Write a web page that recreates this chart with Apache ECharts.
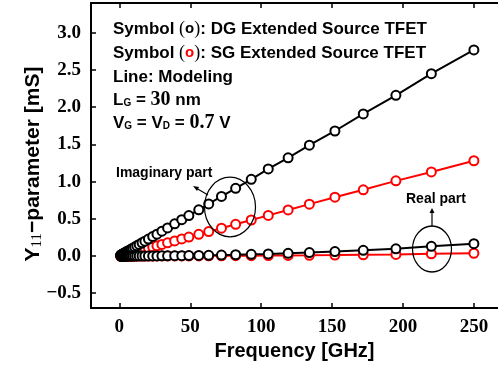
<!DOCTYPE html>
<html>
<head>
<meta charset="utf-8">
<script src="https://cdn.jsdelivr.net/npm/echarts@6/dist/echarts.min.js"></script>
<style>
  html, body { margin: 0; padding: 0; background: #fff; }
  #chart { width: 498px; height: 366px; }
</style>
</head>
<body>
<div id="chart"></div>
<script>
// frequency sweep [GHz] (log-like spacing)
const freq = [1, 1.1, 1.3, 1.5, 1.8, 2, 2.3, 2.6, 3, 3.4, 3.9, 4.4, 5, 5.7, 6.5, 7.4, 8.4, 9.5,
  10.8, 12.3, 14, 16, 18, 20.5, 23.5, 26.5, 30, 34, 39, 44, 49, 56, 63, 72, 82, 93, 105, 119,
  134, 152, 172, 195, 220, 250]

// Y11 imaginary part [mS]
const imagDG = [0.011, 0.012, 0.014, 0.017, 0.020, 0.022, 0.026, 0.029, 0.033, 0.038, 0.043, 0.049,
  0.056, 0.063, 0.072, 0.082, 0.093, 0.105, 0.12, 0.137, 0.155, 0.178, 0.20, 0.228, 0.261, 0.294,
  0.333, 0.377, 0.433, 0.488, 0.544, 0.62, 0.70, 0.80, 0.91, 1.03, 1.17, 1.32, 1.49, 1.68, 1.91,
  2.16, 2.45, 2.77]
const imagSG = [0.005, 0.006, 0.007, 0.008, 0.009, 0.010, 0.012, 0.014, 0.016, 0.018, 0.020, 0.023,
  0.026, 0.030, 0.034, 0.038, 0.044, 0.049, 0.056, 0.064, 0.073, 0.083, 0.094, 0.107, 0.122, 0.138,
  0.156, 0.177, 0.203, 0.229, 0.255, 0.291, 0.328, 0.374, 0.426, 0.484, 0.546, 0.619, 0.697, 0.79,
  0.89, 1.01, 1.13, 1.28]

// Y11 real part [mS]
const realDG = [0, 0, 0, 0, 0, 0, 0, 0, 0, 0, 0, 0, 0, 0.0001, 0.0001, 0.0001, 0.0002, 0.0002,
  0.0003, 0.0004, 0.0005, 0.0007, 0.0008, 0.0011, 0.0014, 0.0018, 0.0023, 0.003, 0.0039, 0.005,
  0.0061, 0.008, 0.010, 0.013, 0.017, 0.022, 0.028, 0.036, 0.046, 0.059, 0.076, 0.097, 0.13, 0.165]
const realSG = [0, 0, 0, 0, 0, 0, 0, 0, 0, 0, 0, 0, 0, 0, 0, 0, 0, 0, 0, 0, 0.0001, 0.0001, 0.0002,
  0.0002, 0.0003, 0.0004, 0.0005, 0.0006, 0.0009, 0.0011, 0.0013, 0.0018, 0.002, 0.003, 0.004,
  0.005, 0.006, 0.008, 0.010, 0.013, 0.017, 0.021, 0.03, 0.037]

const xTicks = [0, 50, 100, 150, 200, 250]
const yTicks = [-0.5, 0, 0.5, 1.0, 1.5, 2.0, 2.5, 3.0]

const sans = '"Liberation Sans", Arial, sans-serif'
const serif = '"Liberation Serif", "Times New Roman", serif'

const pairs = (ys) => freq.map((f, i) => [f, ys[i]])

const makeSeries = (name, ys, color) => ({
    name: name,
    type: 'line',
    data: pairs(ys),
    symbol: 'emptyCircle',
    symbolSize: 9,
    showAllSymbol: true,
    lineStyle: { color: color, width: 2 },
    itemStyle: { color: color, borderColor: color, borderWidth: 1.8 },
    z: 3,
    animation: false
})

const chart = echarts.init(document.getElementById('chart'))

const axisLine = { show: true, onZero: false, lineStyle: { color: '#000', width: 2 } }

const option = {
    backgroundColor: '#fff',
    animation: false,
    grid: { left: 91, top: 3, right: 0, bottom: 57 },
    xAxis: [
        {
            type: 'value',
            min: -20,
            max: 267,
            axisLine: axisLine,
            axisTick: { show: true, inside: true, length: 5, customValues: xTicks, lineStyle: { color: '#000', width: 1.5 } },
            axisLabel: {
                customValues: xTicks,
                margin: 9,
                color: '#000',
                fontFamily: serif,
                fontWeight: 'bold',
                fontSize: 19
            },
            splitLine: { show: false },
            name: 'Frequency [GHz]',
            nameLocation: 'middle',
            nameGap: 29,
            nameTextStyle: { color: '#000', fontFamily: sans, fontWeight: 'bold', fontSize: 20 }
        },
        {
            type: 'value',
            position: 'top',
            min: -20,
            max: 267,
            axisLine: axisLine,
            axisTick: { show: true, inside: true, length: 5, customValues: xTicks, lineStyle: { color: '#000', width: 1.5 } },
            axisLabel: { show: false },
            splitLine: { show: false }
        }
    ],
    yAxis: {
        type: 'value',
        min: -0.7,
        max: 3.4,
        axisLine: axisLine,
        axisTick: { show: true, inside: true, length: 5, customValues: yTicks, lineStyle: { color: '#000', width: 1.5 } },
        axisLabel: {
            customValues: yTicks,
            margin: 10,
            color: '#000',
            fontFamily: serif,
            fontWeight: 'bold',
            fontSize: 19,
            formatter: v => v.toFixed(1).replace('-', '\u2212')
        },
        splitLine: { show: false }
    },
    series: [
        makeSeries('SG imag', imagSG, '#ff0000'),
        makeSeries('SG real', realSG, '#ff0000'),
        makeSeries('DG imag', imagDG, '#000000'),
        makeSeries('DG real', realDG, '#000000')
    ]
}

const txt = { fill: '#000', fontFamily: sans, fontWeight: 'bold', fontSize: 17 }
const rich = {
    par: { fontFamily: serif, fontWeight: 'normal', fontSize: 18, fill: '#000' },
    ok: { fontFamily: sans, fontWeight: 'bold', fontSize: 15, fill: '#000' },
    or: { fontFamily: sans, fontWeight: 'bold', fontSize: 15, fill: '#ff0000' },
    sub: { fontFamily: sans, fontWeight: 'bold', fontSize: 10, fill: '#000', padding: [7, 0, 0, 0] },
    num: { fontFamily: serif, fontWeight: 'bold', fontSize: 20, fill: '#000' }
}
const note = (y, text) => ({
    type: 'text', x: 113, y: y,
    style: Object.assign({}, txt, { text: text, rich: rich, verticalAlign: 'middle' })
})

option.graphic = [
    note(29, 'Symbol {par|(}{ok|o}{par|)}: DG Extended Source TFET'),
    note(53, 'Symbol {par|(}{or|o}{par|)}: SG Extended Source TFET'),
    note(77, 'Line: Modeling'),
    note(100, 'L{sub|G} = {num|30} nm'),
    note(123, 'V{sub|G} = V{sub|D} = {num|0.7} V'),
    {
        type: 'text', x: 33, y: 164, rotation: Math.PI / 2,
        style: {
            text: 'Y{sub|11}\u2212parameter [mS]',
            fill: '#000', fontFamily: sans, fontWeight: 'bold', fontSize: 21,
            align: 'center', verticalAlign: 'middle',
            rich: { sub: { fontFamily: serif, fontSize: 15, fill: '#000', padding: [8, 0, 0, 0] } }
        }
    },
    {
        type: 'text', x: 116, y: 173,
        style: { text: 'Imaginary part', fill: '#000', fontFamily: sans, fontWeight: 'bold', fontSize: 14, verticalAlign: 'middle' }
    },
    {
        type: 'text', x: 406, y: 199,
        style: { text: 'Real part', fill: '#000', fontFamily: sans, fontWeight: 'bold', fontSize: 14, verticalAlign: 'middle' }
    },
    {
        type: 'circle', x: 230, y: 207, scaleY: 1.17,
        shape: { cx: 0, cy: 0, r: 25.5 },
        style: { fill: 'none', stroke: '#000', lineWidth: 1.2 }, z: 10
    },
    {
        type: 'circle', x: 432, y: 249, scaleY: 1.18,
        shape: { cx: 0, cy: 0, r: 19.5 },
        style: { fill: 'none', stroke: '#000', lineWidth: 1.2 }, z: 10
    },
    {
        type: 'line', shape: { x1: 208, y1: 195, x2: 196, y2: 188 },
        style: { stroke: '#000', lineWidth: 1.2 }, z: 10
    },
    {
        type: 'polygon', shape: { points: [[193, 186], [199, 187], [197, 191]] },
        style: { fill: '#000' }, z: 10
    },
    {
        type: 'line', shape: { x1: 432, y1: 226, x2: 432, y2: 212 },
        style: { stroke: '#000', lineWidth: 1.2 }, z: 10
    },
    {
        type: 'polygon', shape: { points: [[432, 208], [429.5, 213], [434.5, 213]] },
        style: { fill: '#000' }, z: 10
    }
]

chart.setOption(option)
</script>
</body>
</html>
